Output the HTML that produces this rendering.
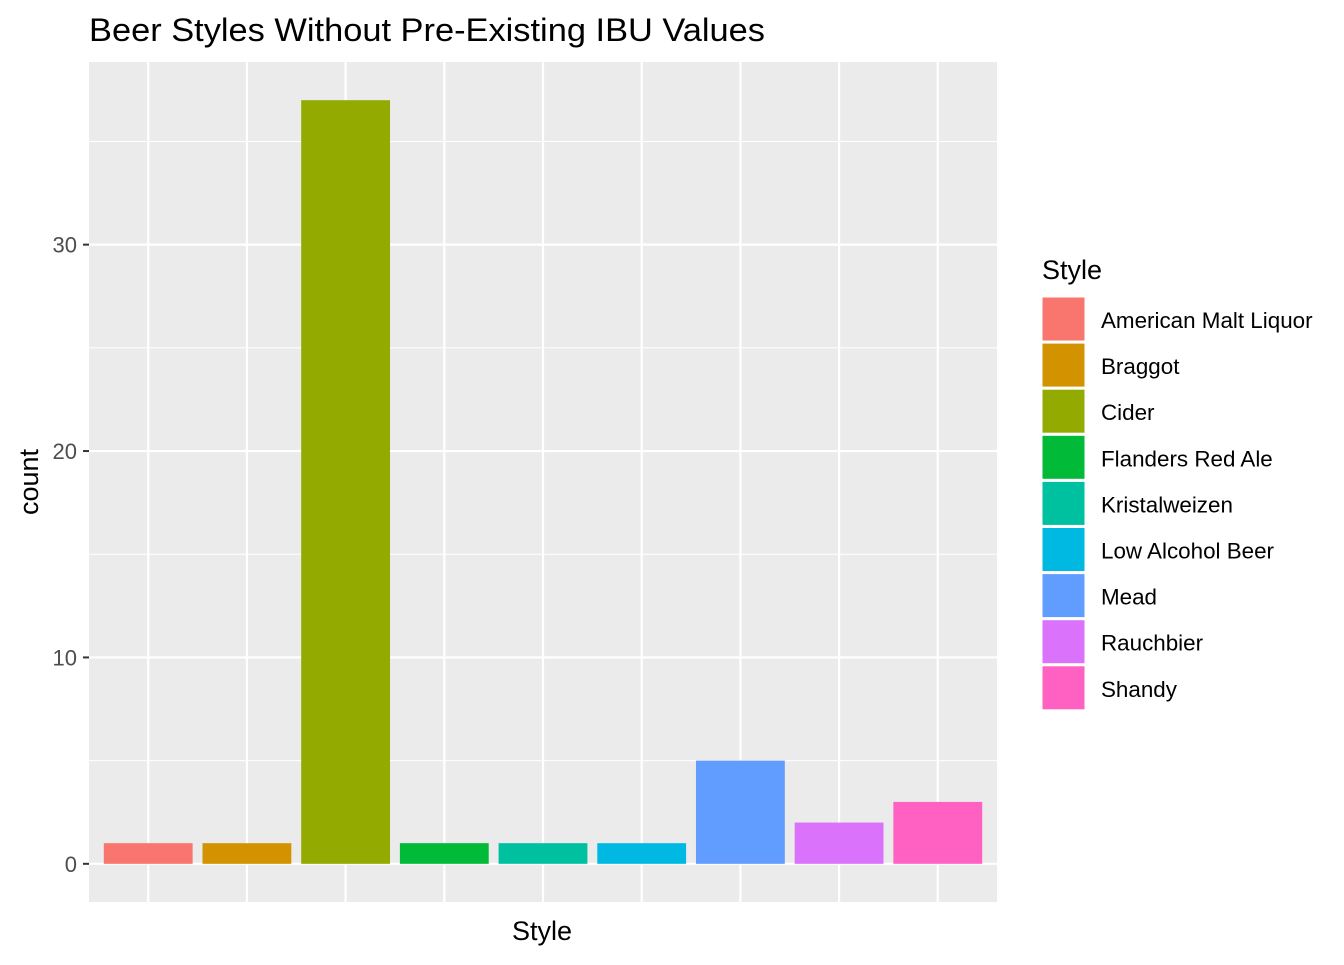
<!DOCTYPE html>
<html><head><meta charset="utf-8"><style>
body{margin:0;background:#fff;font-family:"Liberation Sans",Arial,sans-serif}
</style></head><body>
<svg id="chart" width="1344" height="960" xmlns="http://www.w3.org/2000/svg">
<text x="89" y="41" font-size="32" textLength="676" lengthAdjust="spacingAndGlyphs" fill="#000">Beer Styles Without Pre-Existing IBU Values</text>
<g id="panel"></g>
<text x="542" y="940" font-size="27" text-anchor="middle" fill="#000">Style</text>
<text transform="translate(38,482) rotate(-90)" font-size="27" text-anchor="middle" fill="#000">count</text>
<g id="legend"></g>
</svg>
<script>
const categories=["American Malt Liquor","Braggot","Cider","Flanders Red Ale","Kristalweizen","Low Alcohol Beer","Mead","Rauchbier","Shandy"];
const counts=[1,1,37,1,1,1,5,2,3];
const colors=["#F8766D","#D39200","#93AA00","#00BA38","#00C19F","#00B9E3","#619CFF","#DB72FB","#FF61C3"];
const yTicks=[0,10,20,30];
const NS="http://www.w3.org/2000/svg";
const P={x0:89,x1:997,y0:62,y1:902};
const maxV=Math.max(...counts);
const yMin=-maxV*0.05,yMax=maxV*1.05;
const y=v=>P.y1-(v-yMin)/(yMax-yMin)*(P.y1-P.y0);
const n=categories.length;
const unit=(P.x1-P.x0)/(n-1+1.2);
const x=i=>P.x0+(0.6+i)*unit;
function mk(tag,attrs,parent){const e=document.createElementNS(NS,tag);for(const k in attrs)e.setAttribute(k,attrs[k]);parent.appendChild(e);return e;}
const panel=document.getElementById('panel');
let bg=mk('rect',{x:P.x0,y:P.y0,width:P.x1-P.x0,height:P.y1-P.y0,fill:'#EBEBEB'},panel);


for(let i=0;i<yTicks.length;i++){const v=yTicks[i]+5;if(y(v)<P.y0)continue;
const l=mk('line',{x1:P.x0,x2:P.x1,y1:y(v),y2:y(v),stroke:'#fff','stroke-width':1},panel);

}
for(const v of yTicks){
const l=mk('line',{x1:P.x0,x2:P.x1,y1:y(v),y2:y(v),stroke:'#fff','stroke-width':2.2},panel);


const t=mk('line',{x1:P.x0-6,x2:P.x0,y1:y(v),y2:y(v),stroke:'#333','stroke-width':2},panel);


const tx=mk('text',{x:P.x0-12,y:y(v)+8,'font-size':22,'text-anchor':'end',fill:'#4D4D4D'},panel);
tx.textContent=v;

}
for(let i=0;i<n;i++){
const l=mk('line',{x1:x(i),x2:x(i),y1:P.y0,y2:P.y1,stroke:'#fff','stroke-width':2.2},panel);

}
const bw=unit*0.9;
for(let i=0;i<n;i++){
const b=mk('rect',{x:x(i)-bw/2,y:y(counts[i]),width:bw,height:y(0)-y(counts[i]),fill:colors[i]},panel);

}
const lg=document.getElementById('legend');
const tt=mk('text',{x:1042,y:279,'font-size':27,fill:'#000'},lg);
tt.textContent='Style';


for(let i=0;i<n;i++){
const ky=297+i*46.1;
const r=mk('rect',{x:1042,y:ky,width:43,height:44,fill:colors[i],stroke:'#fff','stroke-width':1},lg);


const t=mk('text',{x:1101,y:ky+31,'font-size':22.4,fill:'#000'},lg);
t.textContent=categories[i];

}
</script>
</body></html>
